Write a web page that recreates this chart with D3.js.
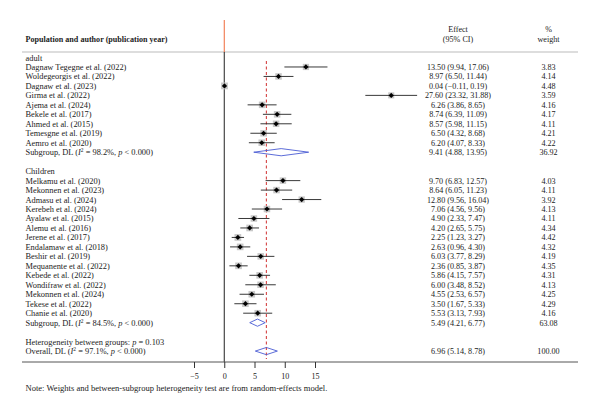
<!DOCTYPE html>
<html><head><meta charset="utf-8">
<script src="https://cdn.jsdelivr.net/npm/d3@7"></script>
<style>body{margin:0;background:#fff}svg{display:block}text{font-family:"Liberation Serif","Times New Roman",serif;fill:#222}</style>
</head><body><svg id="c" width="600" height="415"></svg>
<script>
const adultStudies = ["Dagnaw Tegegne et al. (2022)","Woldegeorgis et al. (2022)","Dagnaw et al. (2023)","Girma et al. (2022)","Ajema et al. (2024)","Bekele et al. (2017)","Ahmed et al. (2015)","Temesgne et al. (2019)","Aemro et al. (2020)"];
const adultEffect = [13.50,8.97,0.04,27.60,6.26,8.74,8.57,6.50,6.20];
const adultLow = [9.94,6.50,-0.11,23.32,3.86,6.39,5.98,4.32,4.07];
const adultHigh = [17.06,11.44,0.19,31.88,8.65,11.09,11.15,8.68,8.33];
const adultWeight = [3.83,4.14,4.48,3.59,4.16,4.17,4.11,4.21,4.22];
const adultSub = {est:9.41, lo:4.88, hi:13.95, w:36.92, i2:"98.2%", p:"0.000"};

const childStudies = ["Melkamu et al. (2020)","Mekonnen et al. (2023)","Admasu et al. (2024)","Kerebeh et al. (2024)","Ayalaw et al. (2015)","Alemu et al. (2016)","Jerene et al. (2017)","Endalamaw et al. (2018)","Beshir et al. (2019)","Mequanente et al. (2022)","Kebede et al. (2022)","Wondifraw et al. (2022)","Mekonnen et al. (2024)","Tekese et al. (2022)","Chanie et al. (2020)"];
const childEffect = [9.70,8.64,12.80,7.06,4.90,4.20,2.25,2.63,6.03,2.36,5.86,6.00,4.55,3.50,5.53];
const childLow = [6.83,6.05,9.56,4.56,2.33,2.65,1.23,0.96,3.77,0.85,4.15,3.48,2.53,1.67,3.13];
const childHigh = [12.57,11.23,16.04,9.56,7.47,5.75,3.27,4.30,8.29,3.87,7.57,8.52,6.57,5.33,7.93];
const childWeight = [4.03,4.11,3.92,4.13,4.11,4.34,4.42,4.32,4.19,4.35,4.31,4.13,4.25,4.29,4.16];
const childSub = {est:5.49, lo:4.21, hi:6.77, w:63.08, i2:"84.5%", p:"0.000"};

const overall = {est:6.96, lo:5.14, hi:8.78, w:100.00, i2:"97.1%", p:"0.000"};
const hetP = "0.103";
const xTicks = [-5,0,5,10,15];

const f2 = v => (v<0?"\u2212":"") + Math.abs(v).toFixed(2);
const svg = d3.select("#c");
const x = d3.scaleLinear().domain([-5,15]).range([194,315]);
const rowY = i => 57.5 + i*9.47;
const FS = 8.4, NFS = 8.1;
const left = 25.5, effX = 458, wX = 548.5;

const rows = [];
rows.push({type:"group", label:"adult"});
adultStudies.forEach((s,i)=>rows.push({type:"study",label:s,est:adultEffect[i],lo:adultLow[i],hi:adultHigh[i],w:adultWeight[i]}));
rows.push(Object.assign({type:"sub"}, adultSub));
rows.push({type:"blank"});
rows.push({type:"group", label:"Children"});
childStudies.forEach((s,i)=>rows.push({type:"study",label:s,est:childEffect[i],lo:childLow[i],hi:childHigh[i],w:childWeight[i]}));
rows.push(Object.assign({type:"sub"}, childSub));
rows.push({type:"blank"});
rows.push({type:"het"});
rows.push(Object.assign({type:"overall"}, overall));

// header
svg.append("text").attr("x",left).attr("y",42).attr("font-size",8.1).attr("font-weight","bold").text("Population and author (publication year)");
svg.append("text").attr("x",effX).attr("y",32).attr("font-size",NFS).attr("text-anchor","middle").text("Effect");
svg.append("text").attr("x",effX).attr("y",42).attr("font-size",NFS).attr("text-anchor","middle").text("(95% CI)");
svg.append("text").attr("x",wX).attr("y",32).attr("font-size",NFS).attr("text-anchor","middle").text("%");
svg.append("text").attr("x",wX).attr("y",42).attr("font-size",NFS).attr("text-anchor","middle").text("weight");
svg.append("line").attr("x1",22).attr("x2",578).attr("y1",52).attr("y2",52).attr("stroke","#bbb").attr("stroke-width",1);

// null line
svg.append("line").attr("x1",x(0)).attr("x2",x(0)).attr("y1",20).attr("y2",52).attr("stroke","#f06a3a").attr("stroke-width",1);
svg.append("line").attr("x1",x(0)).attr("x2",x(0)).attr("y1",52).attr("y2",362).attr("stroke","#222").attr("stroke-width",1);
// overall dashed line
svg.append("line").attr("x1",x(overall.est)).attr("x2",x(overall.est)).attr("y1",61).attr("y2",359)
  .attr("stroke","#d03030").attr("stroke-width",1).attr("stroke-dasharray","3,2.5");

const g = svg.append("g");
rows.forEach((r,i)=>{
  const y = rowY(i);
  const ty = y + 3;
  if(r.type==="group"){
    g.append("text").attr("x",left).attr("y",ty).attr("font-size",FS).text(r.label);
  } else if(r.type==="study"){
    g.append("text").attr("x",left).attr("y",ty).attr("font-size",FS).text(r.label);
    const s = 3.2*Math.sqrt(r.w/4);
    g.append("rect").attr("x",x(r.est)-s).attr("y",y-s).attr("width",2*s).attr("height",2*s).attr("fill","#c8c8c8");
    g.append("line").attr("x1",x(r.lo)).attr("x2",x(r.hi)).attr("y1",y).attr("y2",y).attr("stroke","#222").attr("stroke-width",0.9);
    const d=2.6;
    g.append("path").attr("d",`M${x(r.est)-d},${y}L${x(r.est)},${y-d}L${x(r.est)+d},${y}L${x(r.est)},${y+d}Z`).attr("fill","#000");
    g.append("text").attr("x",effX).attr("y",ty).attr("font-size",NFS).attr("text-anchor","middle").text(`${f2(r.est)} (${f2(r.lo)}, ${f2(r.hi)})`);
    g.append("text").attr("x",wX).attr("y",ty).attr("font-size",NFS).attr("text-anchor","middle").text(r.w.toFixed(2));
  } else if(r.type==="sub" || r.type==="overall"){
    const t = g.append("text").attr("x",left).attr("y",ty).attr("font-size",FS);
    t.append("tspan").text(r.type==="sub" ? "Subgroup, DL (" : "Overall, DL (");
    t.append("tspan").attr("font-style","italic").text("I");
    t.append("tspan").attr("font-size",FS*0.65).attr("dy",-3).text("2");
    t.append("tspan").attr("dy",3).text(` = ${r.i2}, `);
    t.append("tspan").attr("font-style","italic").text("p");
    t.append("tspan").text(` < ${r.p})`);
    const h=3.6;
    g.append("path").attr("d",`M${x(r.lo)},${y}L${x(r.est)},${y-h}L${x(r.hi)},${y}L${x(r.est)},${y+h}Z`)
      .attr("fill","none").attr("stroke","#4a5bd4").attr("stroke-width",0.9);
    g.append("text").attr("x",effX).attr("y",ty).attr("font-size",NFS).attr("text-anchor","middle").text(`${f2(r.est)} (${f2(r.lo)}, ${f2(r.hi)})`);
    g.append("text").attr("x",wX).attr("y",ty).attr("font-size",NFS).attr("text-anchor","middle").text(r.w.toFixed(2));
  } else if(r.type==="het"){
    const t = g.append("text").attr("x",left).attr("y",ty).attr("font-size",FS);
    t.append("tspan").text("Heterogeneity between groups: ");
    t.append("tspan").attr("font-style","italic").text("p");
    t.append("tspan").text(` = ${hetP}`);
  }
});

// axis
svg.append("line").attr("x1",22).attr("x2",578).attr("y1",362).attr("y2",362).attr("stroke","#555").attr("stroke-width",1);
const ax = svg.append("g").attr("transform","translate(0,362)")
  .call(d3.axisBottom(x).tickValues(xTicks).tickSize(6).tickSizeOuter(0).tickFormat(d=> d<0 ? "\u2212"+Math.abs(d) : d));
ax.select(".domain").remove();
ax.selectAll("line").attr("stroke","#333");
ax.selectAll("text").attr("font-size",NFS).attr("font-family","Liberation Serif, serif").attr("fill","#222").attr("dy","0.95em");

svg.append("text").attr("x",left).attr("y",391).attr("font-size",8.55).text("Note: Weights and between-subgroup heterogeneity test are from random-effects model.");
</script></body></html>
